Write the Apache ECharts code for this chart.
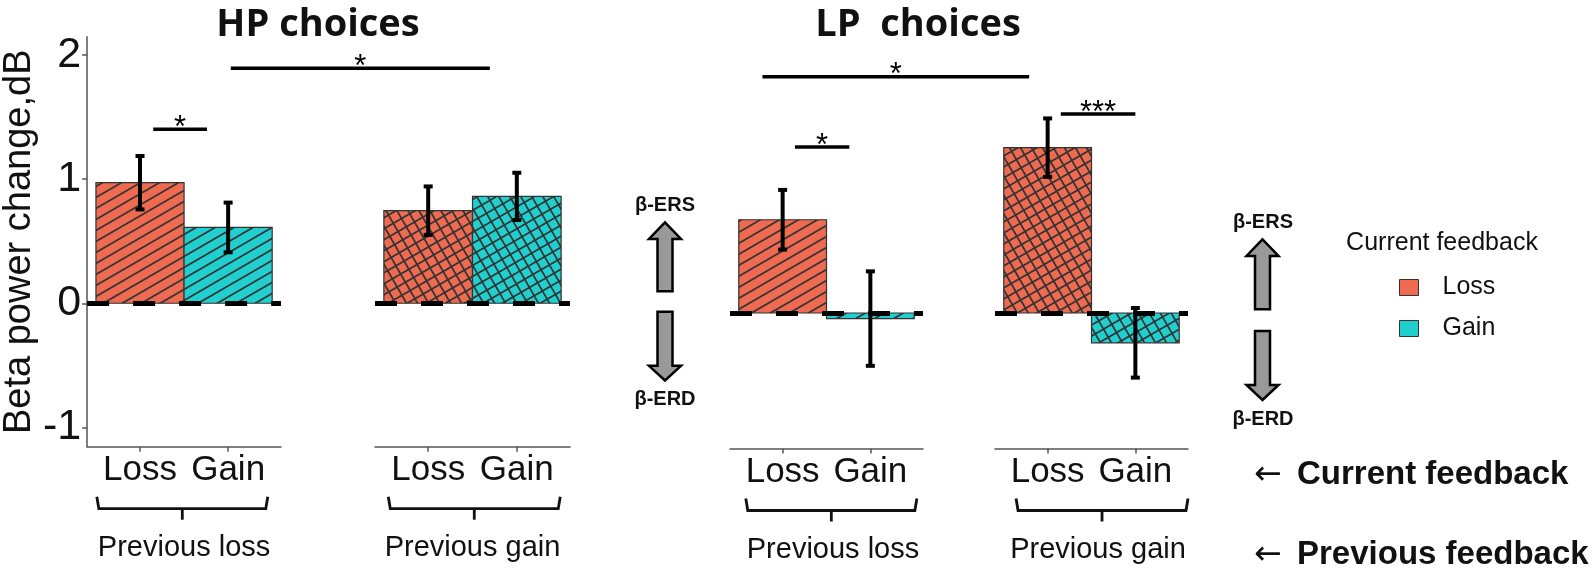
<!DOCTYPE html>
<html>
<head>
<meta charset="utf-8">
<script src="https://cdn.jsdelivr.net/npm/echarts@6/dist/echarts.min.js"></script>
<style>
html, body { margin: 0; padding: 0; background: #fff; }
#main { width: 1595px; height: 588px; }
</style>
</head>
<body>
<div id="main"></div>
<script>
var categories = ['Loss', 'Gain'];
var prevGroups = ['Previous loss', 'Previous gain'];
var panelTitles = ['HP choices', 'LP  choices'];
var yTicks = [-1, 0, 1, 2];

// beta power change (dB), index 0 = previous loss, 1 = previous gain
var hpLoss = [0.97, 0.745];
var hpGain = [0.61, 0.86];
var hpLossSe = [0.215, 0.195];
var hpGainSe = [0.20, 0.19];
var lpLoss = [0.75, 1.33];
var lpGain = [-0.045, -0.24];
var lpLossSe = [0.24, 0.235];
var lpGainSe = [0.38, 0.28];

// significance bars: [group, from, to, height, stars]
var hpSig = [[0, 1.15, 1.76, 1.40, '*'], [0, 2.03, 4.97, 1.89, '*']];
var lpSig = [[0, 1.14, 1.76, 1.335, '*'], [0, 0.77, 3.81, 1.90, '*'], [1, 1.15, 2.0, 1.60, '***']];

var lossColor = '#EE6A50';
var gainColor = '#22CFCF';
var font = 'Liberation Sans';

// hatch fills (stripes ~30deg, cross hatch for previous gain)
function makePattern(base, cross) {
    var s = 209;
    var c = document.createElement('canvas');
    c.width = s; c.height = s;
    var g = c.getContext('2d');
    g.fillStyle = base;
    g.fillRect(0, 0, s, s);
    g.strokeStyle = '#333';
    g.lineWidth = 1.7;
    g.beginPath();
    for (var k = -2; k <= 32; k++) {
        g.moveTo(-19, 11 * k + 11);
        g.lineTo(s + 19, 11 * k - 11 * (s + 19) / 19);
    }
    if (cross) {
        for (var j = -13; j <= 21; j++) {
            g.moveTo(11 * j - 11, -19);
            g.lineTo(11 * j + 11 * (s + 19) / 19, s + 19);
        }
    }
    g.stroke();
    return { image: c, repeat: 'repeat' };
}

var patterns = {
    loss: [makePattern(lossColor, false), makePattern(lossColor, true)],
    gain: [makePattern(gainColor, false), makePattern(gainColor, true)]
};

function barRender(fill) {
    return function (params, api) {
        var x = api.value(0), m = api.value(1), se = api.value(2);
        var tl = api.coord([x - 0.5, m]);
        var br = api.coord([x + 0.5, 0]);
        var hi = api.coord([x, m + se]);
        var lo = api.coord([x, m - se]);
        var line = { stroke: '#000', lineWidth: 4 };
        return {
            type: 'group',
            children: [
                { type: 'rect', shape: { x: tl[0], y: Math.min(tl[1], br[1]), width: br[0] - tl[0], height: Math.abs(br[1] - tl[1]) },
                  style: { fill: fill, stroke: '#333', lineWidth: 1.2 } },
                { type: 'line', z2: 5, shape: { x1: hi[0], y1: hi[1], x2: lo[0], y2: lo[1] }, style: line },
                { type: 'line', z2: 5, shape: { x1: hi[0] - 4.5, y1: hi[1], x2: hi[0] + 4.5, y2: hi[1] }, style: line },
                { type: 'line', z2: 5, shape: { x1: lo[0] - 4.5, y1: lo[1], x2: lo[0] + 4.5, y2: lo[1] }, style: line }
            ]
        };
    };
}

function bracketRender(params, api) {
    var a = api.coord([api.value(0), 0]);
    var b = api.coord([api.value(1), 0]);
    var base = params.coordSys.y + params.coordSys.height;
    var y0 = base + 50, y1 = base + 62, mid = (a[0] + b[0]) / 2;
    var st = { stroke: '#111', lineWidth: 2.8, fill: null };
    return {
        type: 'group',
        children: [
            { type: 'polyline', shape: { points: [[a[0], y0], [a[0] + 2, y1], [b[0] - 2, y1], [b[0], y0]] }, style: st },
            { type: 'line', shape: { x1: mid, y1: y1, x2: mid, y2: y1 + 11 }, style: st }
        ]
    };
}

function sigRender(list) {
    return function (params, api) {
        var s = list[params.dataIndex];
        var a = api.coord([api.value(0), api.value(2)]);
        var b = api.coord([api.value(1), api.value(2)]);
        return {
            type: 'group',
            children: [
                { type: 'line', shape: { x1: a[0], y1: a[1], x2: b[0], y2: b[1] }, style: { stroke: '#000', lineWidth: 3.5 } },
                { type: 'text', x: (a[0] + b[0]) / 2, y: a[1] - 1,
                  style: { text: s[4], font: '31px "Liberation Sans"', fill: '#000', align: 'center', verticalAlign: 'middle', textAlign: 'center', textVerticalAlign: 'middle' } }
            ]
        };
    };
}

var lossMeans = [hpLoss, lpLoss], gainMeans = [hpGain, lpGain];
var lossSe = [hpLossSe, lpLossSe], gainSe = [hpGainSe, lpGainSe];
var sigs = [hpSig, lpSig];
var bracketSpan = [[0.51, 2.45], [0.55, 2.49], [0.58, 2.53], [0.64, 2.60]];

var grids = [
    { left: 86, top: 36.8, width: 195, height: 409.9 },
    { left: 375, top: 36.8, width: 195, height: 409.9 },
    { left: 730, top: 38.6, width: 193, height: 409.9 },
    { left: 995, top: 38.6, width: 193, height: 409.9 }
];
var yRange = [[-1.154, 2.144], [-1.09, 2.207]];

var xAxes = [], yAxes = [], series = [];
for (var i = 0; i < 4; i++) {
    var p = Math.floor(i / 2), g = i % 2;
    xAxes.push({
        type: 'value', gridIndex: i, min: 0.4, max: 2.6,
        name: prevGroups[g], nameLocation: 'middle', nameGap: 87,
        nameTextStyle: { fontFamily: font, fontSize: 29, color: '#111', padding: p === 1 ? [0, 0, 0, 13] : 0 },
        axisLine: { show: true, onZero: false, lineStyle: { color: '#555', width: 1.5 } },
        axisTick: { show: true, customValues: [1, 2], length: 5, lineStyle: { color: '#555', width: 1.5 } },
        axisLabel: { customValues: [1, 2], margin: 6, fontFamily: font, fontSize: 35, color: '#111',
                     formatter: function (v) { return categories[Math.round(v) - 1]; } },
        splitLine: { show: false }
    });
    yAxes.push({
        type: 'value', gridIndex: i, min: yRange[p][0], max: yRange[p][1],
        show: i === 0,
        name: i === 0 ? 'Beta power change,dB' : '', nameLocation: 'middle', nameGap: 47,
        nameTextStyle: { fontFamily: font, fontSize: 38, color: '#111' },
        axisLine: { show: true, onZero: false, lineStyle: { color: '#555', width: 1.5 } },
        axisTick: { show: true, customValues: yTicks, length: 5, lineStyle: { color: '#555', width: 1.5 } },
        axisLabel: { customValues: yTicks, margin: 6, fontFamily: font, fontSize: 43, color: '#111' },
        splitLine: { show: false }
    });
    series.push({
        name: 'Loss', type: 'custom', xAxisIndex: i, yAxisIndex: i, z: 2,
        itemStyle: { color: lossColor },
        data: [[1, lossMeans[p][g], lossSe[p][g]]],
        renderItem: barRender(patterns.loss[g])
    });
    series.push({
        name: 'Gain', type: 'custom', xAxisIndex: i, yAxisIndex: i, z: 2,
        itemStyle: { color: gainColor },
        data: [[2, gainMeans[p][g], gainSe[p][g]]],
        renderItem: barRender(patterns.gain[g])
    });
    series.push({
        name: 'bracket' + i, type: 'custom', xAxisIndex: i, yAxisIndex: i, z: 4, clip: false,
        data: [bracketSpan[i]],
        renderItem: bracketRender,
        markLine: {
            silent: true, symbol: ['none', 'none'], label: { show: false },
            lineStyle: { color: '#000', width: 5, type: [22, 24], cap: 'butt' },
            data: [{ yAxis: 0 }]
        }
    });
    var list = sigs[p].filter(function (s) { return s[0] === g; });
    if (list.length) {
        series.push({
            name: 'sig' + i, type: 'custom', xAxisIndex: i, yAxisIndex: i, z: 4, clip: false,
            data: list.map(function (s) { return [s[1], s[2], s[3]]; }),
            renderItem: sigRender(list)
        });
    }
}

function upArrow(cx, tip, head, bottom) {
    return [[cx, tip], [cx + 16, head], [cx + 7.5, head], [cx + 7.5, bottom], [cx - 7.5, bottom], [cx - 7.5, head], [cx - 16, head]];
}
function downArrow(cx, top, head, tip) {
    return [[cx - 7.5, top], [cx + 7.5, top], [cx + 7.5, head], [cx + 16, head], [cx, tip], [cx - 16, head], [cx - 7.5, head]];
}
function label(text, x, y, f, align) {
    return { type: 'text', x: x, y: y, style: { text: text, font: f, fill: '#111', textAlign: align || 'center', textVerticalAlign: 'middle' } };
}
var arrowStyle = { fill: '#999', stroke: '#000', lineWidth: 2.5 };

var option = {
    animation: false,
    textStyle: { fontFamily: font },
    grid: grids,
    xAxis: xAxes,
    yAxis: yAxes,
    legend: {
        data: categories, orient: 'vertical', left: 1394, top: 270, icon: 'rect',
        itemWidth: 19, itemHeight: 16, itemGap: 16, selectedMode: false,
        itemStyle: { borderColor: '#333', borderWidth: 1 },
        textStyle: { fontFamily: font, fontSize: 25, color: '#111', lineHeight: 16, padding: [0, 0, 0, 19] }
    },
    graphic: [
        label(panelTitles[0], 318, 25, 'bold 38px "Open Sans"'),
        label(panelTitles[1], 918, 25, 'bold 38px "Open Sans"'),
        label('β-ERS', 665, 205, 'bold 20px "Liberation Sans"'),
        label('β-ERD', 665, 399, 'bold 20px "Liberation Sans"'),
        label('β-ERS', 1263, 222, 'bold 20px "Liberation Sans"'),
        label('β-ERD', 1263, 419, 'bold 20px "Liberation Sans"'),
        { type: 'polygon', shape: { points: upArrow(665, 222.4, 239, 291.2) }, style: arrowStyle },
        { type: 'polygon', shape: { points: downArrow(665, 311.8, 365.8, 380.5) }, style: arrowStyle },
        { type: 'polygon', shape: { points: upArrow(1262.5, 239.3, 256, 309.3) }, style: arrowStyle },
        { type: 'polygon', shape: { points: downArrow(1262.5, 331, 385, 400) }, style: arrowStyle },
        label('Current feedback', 1442, 243, '25px "Liberation Sans"'),
        label('←', 1254, 475, '33px "DejaVu Sans"', 'left'),
        label('Current feedback', 1297, 475, 'bold 33px "Liberation Sans"', 'left'),
        label('←', 1254, 555, '33px "DejaVu Sans"', 'left'),
        label('Previous feedback', 1297, 555, 'bold 33px "Liberation Sans"', 'left')
    ],
    series: series
};

var chart = echarts.init(document.getElementById('main'));
chart.setOption(option);
</script>
</body>
</html>
